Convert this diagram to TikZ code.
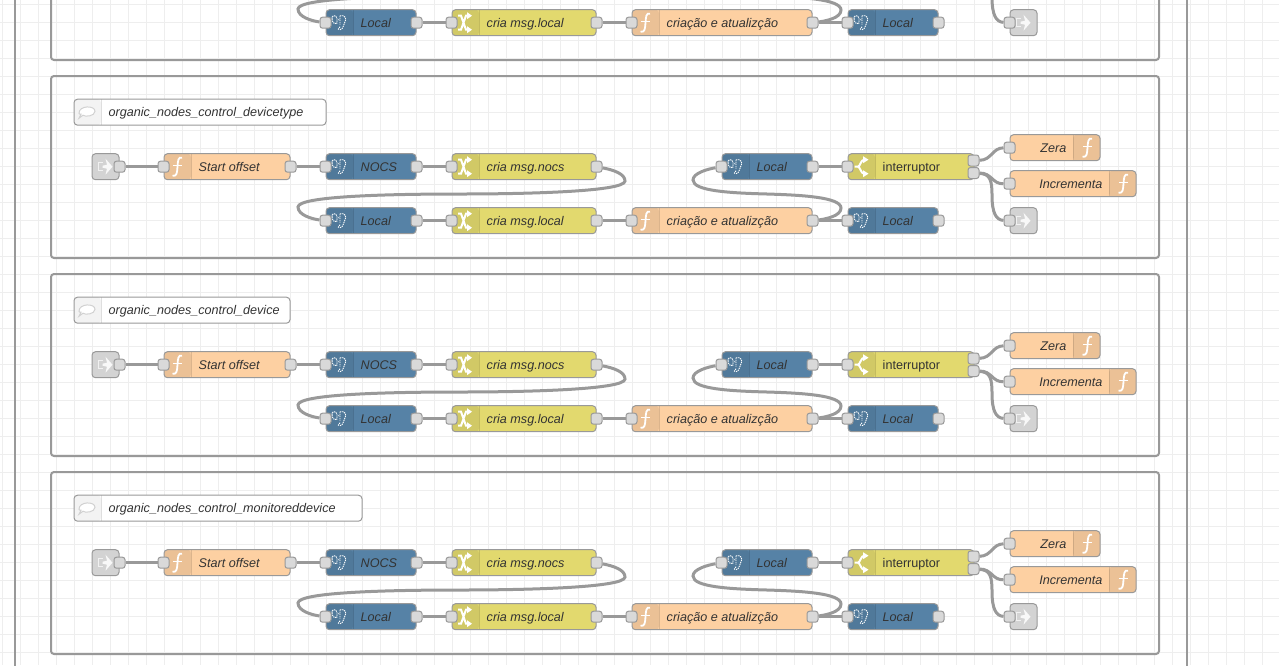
\documentclass[tikz,border=0pt]{standalone}
\usepackage{fontspec}
\setmainfont{Liberation Sans}
\usepackage{xcolor}
\usetikzlibrary{arrows,positioning,calc}
\pgfdeclarelayer{bg}
\pgfsetlayers{bg,main}
\definecolor{gridline}{HTML}{EEEEEE}
\definecolor{wirecol}{HTML}{999999}
\definecolor{funcfill}{HTML}{FDD0A2}
\definecolor{functab}{HTML}{EBC196}
\definecolor{pgfill}{HTML}{5682A6}
\definecolor{pgtab}{HTML}{50799A}
\definecolor{chgfill}{HTML}{E2D96E}
\definecolor{chgtab}{HTML}{D1C966}
\definecolor{linkfill}{HTML}{D3D3D3}
\definecolor{cmttab}{HTML}{F3F3F3}
\definecolor{portfill}{HTML}{D9D9D9}
\definecolor{labelcol}{HTML}{333333}
\tikzset{
  flowbox/.style = {draw = wirecol, line width = 1pt, rounded corners = 3.5pt, inner sep = 0pt, minimum height = 26pt, anchor = west, xshift = -.5pt, yshift = .3pt},
  lefttab/.style = {path picture = {\fill[#1] (path picture bounding box.north west) rectangle ([xshift = 27pt]path picture bounding box.south west);
    \draw[black, opacity = .12] ([xshift = 27pt]path picture bounding box.north west) -- ([xshift = 27pt]path picture bounding box.south west);}},
  righttab/.style = {path picture = {\fill[#1] (path picture bounding box.north east) rectangle ([xshift = -27pt]path picture bounding box.south east);
    \draw[black, opacity = .12] ([xshift = -27pt]path picture bounding box.north east) -- ([xshift = -27pt]path picture bounding box.south east);}},
  funcnode/.style = {flowbox, fill = funcfill, lefttab = functab},
  funcright/.style = {flowbox, fill = funcfill, righttab = functab},
  pgnode/.style = {flowbox, fill = pgfill, lefttab = pgtab},
  chgnode/.style = {flowbox, fill = chgfill, lefttab = chgtab},
  linknode/.style = {flowbox, fill = linkfill, minimum width = 27pt},
  cmtnode/.style = {flowbox, fill = white, lefttab = cmttab},
  port/.style = {draw = wirecol, fill = portfill, line width = 1pt, rounded corners = 2.5pt, minimum size = 11pt, inner sep = 0pt},
  nodetext/.style = {inner sep = 0pt, yshift = -1pt, text = labelcol, text height = 10pt, text depth = 3pt, font = \fontsize{12.6}{15}\selectfont\itshape},
  wire/.style = {draw = wirecol, line width = 3pt},
  groupbox/.style = {draw = wirecol, line width = 2pt, rounded corners = 3pt},
  funcicon/.pic = {\draw[white, line width = 1.8pt] (5,-9) .. controls (1,-10) and (1,-6) .. (.5,0) .. controls (0,6) and (0,10) .. (-4.5,9);
    \draw[white, line width = 1.5pt] (-4,-1) -- (4.5,-1);},
  pgicon/.pic = {\draw[white, line width = .9pt, dash pattern = on 1.3pt off .8pt] (-7,-4) .. controls (-8,-8) and (-2,-8) .. (-2,-4) -- (-2,1) (-7,-4) .. controls (-7,0) and (-4,2) .. (-2,0)
      (1,-7) .. controls (6,-8) and (8,-4) .. (6,-1) .. controls (4,2) and (5,6) .. (1,7) (1,-7) -- (1,2) (0,-3) -- (-1,-3) (1,4) -- (-1,7);},
  chgicon/.pic = {\draw[white, line width = 2pt] (-7,-7) -- (-4,-7) -- (1,7) -- (3,7) (-7,7) -- (-4,7) -- (1,-7) -- (3,-7);
    \fill[white] (2,-10.5) -- (7,-7) -- (2,-3.5) -- cycle (2,3.5) -- (7,7) -- (2,10.5) -- cycle;},
  swicon/.pic = {\draw[white, line width = 2pt] (-6.5,0) -- (-3,0) .. controls (-1,0) and (0,-7) .. (3,-7) (-3,0) .. controls (-1,0) and (0,7) .. (3,7);
    \fill[white] (2,-10.5) -- (7.5,-7) -- (2,-3.5) -- cycle (2,3.5) -- (7.5,7) -- (2,10.5) -- cycle;},
  linkicon/.pic = {\fill[white, opacity = .85] (0,-8) -- (7,0) -- (0,8) -- (1.5,2) -- (-3,1) -- (-3,-1) -- (1.5,-2) -- cycle;
    \draw[white, opacity = .7, line width = 1.2pt] (-3,-4) -- (-7,-4) -- (-7,4) -- (-3,4);},
  cmticon/.pic = {\draw[black!18, line width = 1pt, fill = white] (-8,1) .. controls (-8,-7) and (8,-7) .. (8,-1) .. controls (8,4) and (-2,5) .. (-4,3) -- (-8,6) -- (-6,2) .. controls (-7,2) and (-8,2) .. (-8,1) -- cycle;}
}
% node with its tab on the left
\newcommand{\flownode}[7]{
\node[#1, minimum width = #5pt] (#2) at (#3,#4) {};
\pic at ([xshift = 13.5pt]#2.west) {#6};
\node[nodetext, anchor = west, xshift = 35pt] (#2t) at (#2.west) {#7};
}
% node with its tab on the right
\newcommand{\flowright}[6]{
\node[funcright, minimum width = #4pt] (#1) at (#2,#3) {};
\pic at ([xshift = -13.5pt]#1.east) {#5};
\node[nodetext, anchor = east, xshift = -34pt] (#1t) at (#1.east) {#6};
\node[port] (#1i) at (#1.west) {};
}
\newcommand{\inoutports}[1]{
\node[port] (#1i) at (#1.west) {};
\node[port] (#1o) at (#1.east) {};
}
% second row of a group, all four have it
\newcommand{\lowerrow}[1]{
\flownode{pgnode}{localb#1}{326}{221}{90}{pgicon}{Local}
\inoutports{localb#1}
\flownode{chgnode}{crial#1}{452}{221}{144}{chgicon}{cria msg.local}
\inoutports{crial#1}
\flownode{funcnode}{criacao#1}{632}{221}{180}{funcicon}{criação e atualizção}
\inoutports{criacao#1}
\flownode{pgnode}{localc#1}{848}{221}{90}{pgicon}{Local}
\inoutports{localc#1}
\node[linknode] (out#1) at (1010,221) {};
\pic at (out#1.center) {linkicon};
\node[port] (out#1i) at (out#1.west) {};
\begin{pgfonlayer}{bg}
\draw[wire] (localb#1o) -- (crial#1i);
\draw[wire] (crial#1o) -- (criacao#1i);
\draw[wire] (criacao#1o) -- (localc#1i);
\draw[wire] (crian#1o) .. controls (614,170) and (625,174) .. (625,181) .. controls (625,192) and (520,194) .. (461,194) .. controls (390,194) and (298,196) .. (298,207) .. controls (298,215) and (312,219) .. (localb#1i);
\draw[wire] (criacao#1o) .. controls (826,219) and (841,216) .. (841,208) .. controls (841,197) and (800,195) .. (767,194) .. controls (730,193) and (693,191) .. (693,180) .. controls (693,173) and (708,169) .. (locala#1i);
\draw[wire] (swb#1) .. controls (990,174) and (992,180) .. (992,195) .. controls (992,213) and (996,220) .. (out#1i);
\end{pgfonlayer}
}
% first row of a group
\newcommand{\upperrow}[3]{
\node[cmtnode, minimum width = #3pt] (note#1) at (74,112.5) {};
\pic at ([xshift = 13.5pt]note#1.west) {cmticon};
\node[nodetext, anchor = west, xshift = 35pt] (note#1t) at (note#1.west) {#2};
\node[linknode] (in#1) at (92,167) {};
\pic at (in#1.center) {linkicon};
\node[port] (in#1o) at (in#1.east) {};
\flownode{funcnode}{start#1}{164}{167}{126}{funcicon}{Start offset}
\inoutports{start#1}
\flownode{pgnode}{nocs#1}{326}{167}{90}{pgicon}{NOCS}
\inoutports{nocs#1}
\flownode{chgnode}{crian#1}{452}{167}{144}{chgicon}{cria msg.nocs}
\inoutports{crian#1}
\flownode{pgnode}{locala#1}{722}{167}{90}{pgicon}{Local}
\inoutports{locala#1}
\flownode{chgnode}{inter#1}{848}{167}{126}{swicon}{\upshape interruptor}
\node[port] (inter#1i) at (inter#1.west) {};
\node[port] (swa#1) at (973.5,160.5) {};
\node[port] (swb#1) at (973.5,173) {};
\flowright{zera#1}{1010}{148}{90}{funcicon}{Zera}
\flowright{inc#1}{1010}{184}{126}{funcicon}{Incrementa}
\begin{pgfonlayer}{bg}
\draw[wire] (in#1o) -- (start#1i);
\draw[wire] (start#1o) -- (nocs#1i);
\draw[wire] (nocs#1o) -- (crian#1i);
\draw[wire] (locala#1o) -- (inter#1i);
\draw[wire] (swa#1) .. controls (992,160) and (992,148) .. (zera#1i);
\draw[wire] (swb#1) .. controls (992,173) and (992,184) .. (inc#1i);
\end{pgfonlayer}
}

\begin{document}
\begin{tikzpicture}[x = 1pt, y = -1pt]
\useasboundingbox (0,0) rectangle (1279,665);
\begin{pgfonlayer}{bg}
\fill[white] (0,0) rectangle (1279,665);
\foreach \gx in {0,...,70} {\draw[gridline, line width = 1pt] (2.5+18*\gx,0) -- (2.5+18*\gx,665);}
\foreach \gy in {0,...,36} {\draw[gridline, line width = 1pt] (0,4.5+18*\gy) -- (1279,4.5+18*\gy);}
\draw[groupbox] (14.7,-10) -- (14.7,675);
\draw[groupbox] (1186.5,-10) -- (1186.5,675);
\end{pgfonlayer}
% group cut by the top of the picture
\begin{scope}[yshift = 198pt]
\begin{pgfonlayer}{bg}
\draw[groupbox] (51,76) rectangle (1159,258);
\end{pgfonlayer}
\coordinate (crian1o) at (596,167);
\coordinate (locala1i) at (722,167);
\coordinate (swb1) at (973.5,173);
\node[funcright, minimum width = 126pt] (inc1) at (1010,184) {};
\lowerrow{1}
\end{scope}
\foreach \s/\off/\title/\notew in {2/0/devicetype/252, 3/198/device/216, 4/396/monitoreddevice/288} {
\begin{scope}[yshift = -\off pt]
\begin{pgfonlayer}{bg}
\draw[groupbox] (51,76) rectangle (1159,258);
\end{pgfonlayer}
\upperrow{\s}{organic\_nodes\_control\_\title}{\notew}
\lowerrow{\s}
\end{scope}
}
\end{tikzpicture}
\end{document}
